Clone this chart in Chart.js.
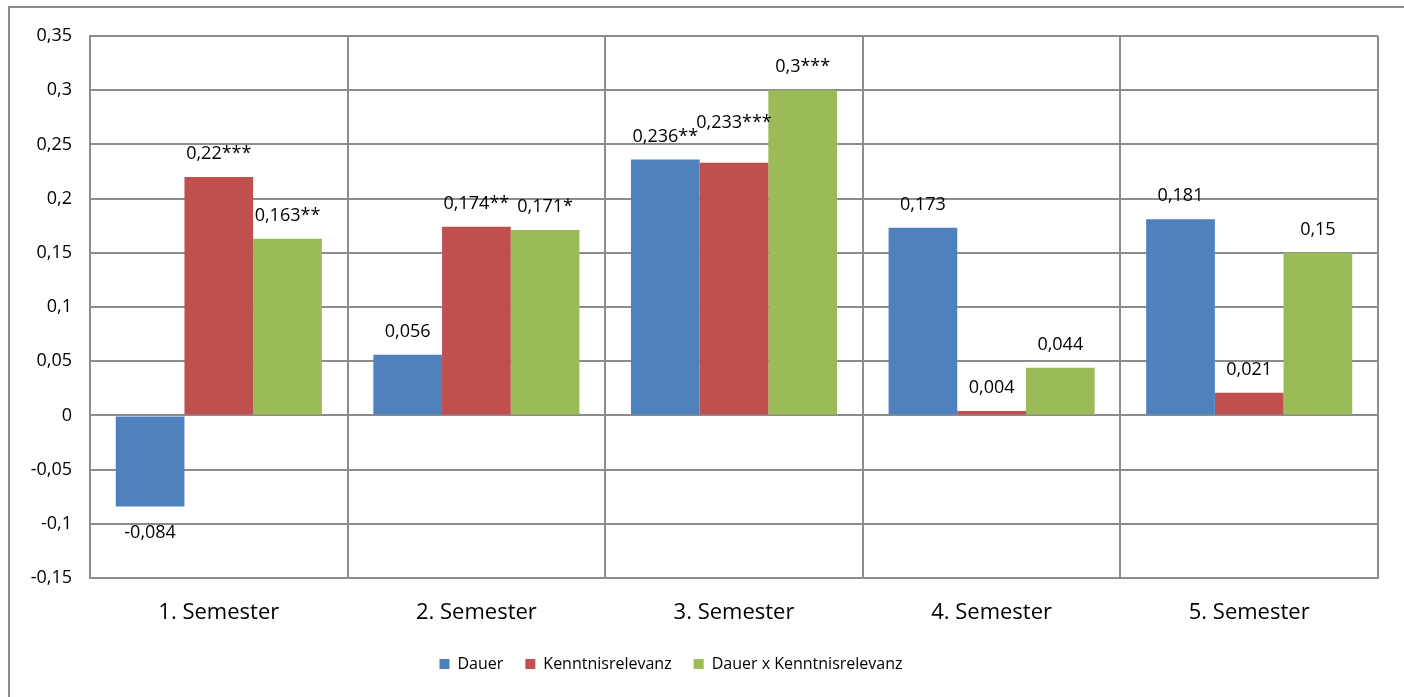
<!DOCTYPE html>
<html>
<head>
<meta charset="utf-8">
<script src="https://cdn.jsdelivr.net/npm/chart.js@4/dist/chart.umd.min.js"></script>
<style>
  html, body { margin: 0; padding: 0; background: #fff; }
  #wrap { width: 1404px; height: 697px; }
</style>
</head>
<body>
<div id="wrap"><canvas id="chart" width="1404" height="697"></canvas></div>
<script>
const categories = ['1. Semester', '2. Semester', '3. Semester', '4. Semester', '5. Semester'];
const dauer = [-0.084, 0.056, 0.236, 0.173, 0.181];
const kenntnis = [0.22, 0.174, 0.233, 0.004, 0.021];
const interaktion = [0.163, 0.171, 0.3, 0.044, 0.15];
const starsDauer = ['', '', '**', '', ''];
const starsKenntnis = ['***', '**', '***', '', ''];
const starsInteraktion = ['**', '*', '***', '', ''];
const yTicks = [0.35, 0.3, 0.25, 0.2, 0.15, 0.1, 0.05, 0, -0.05, -0.1, -0.15];

const grey = '#8c8c8c';
const fontFamily = '"Open Sans", sans-serif';

function deNum(v) {
  return String(Math.round(v * 1000) / 1000).replace('.', ',');
}

// Excel nudges overlapping labels upwards
const labelLift = { '1-2': 17 };

const frame = {
  id: 'frame',
  beforeDraw(chart) {
    const ctx = chart.ctx;
    ctx.save();
    ctx.strokeStyle = grey;
    ctx.lineWidth = 2;
    ctx.beginPath();
    ctx.moveTo(9, 697);
    ctx.lineTo(9, 7);
    ctx.lineTo(1404, 7);
    ctx.stroke();
    ctx.restore();
  }
};

// legend in the original sits a bit left of centre
const legendShift = {
  id: 'legendShift',
  afterLayout(chart) {
    chart.legend.left -= 18;
    chart.legend.right -= 18;
  }
};

const valueLabels = {
  id: 'valueLabels',
  afterDatasetsDraw(chart) {
    const ctx = chart.ctx;
    ctx.save();
    ctx.font = '18px ' + fontFamily;
    ctx.fillStyle = '#000';
    ctx.textAlign = 'center';
    ctx.textBaseline = 'middle';
    chart.data.datasets.forEach((ds, di) => {
      const meta = chart.getDatasetMeta(di);
      meta.data.forEach((bar, i) => {
        const v = ds.data[i];
        const text = deNum(v) + ds.stars[i];
        const lift = labelLift[di + '-' + i] || 0;
        const y = v < 0 ? bar.y + 26 : bar.y - 23 - lift;
        ctx.fillText(text, bar.x, y);
      });
    });
    ctx.restore();
  }
};

new Chart(document.getElementById('chart'), {
  type: 'bar',
  data: {
    labels: categories,
    datasets: [
      { label: 'Dauer', data: dauer, stars: starsDauer, backgroundColor: '#4F81BD' },
      { label: 'Kenntnisrelevanz', data: kenntnis, stars: starsKenntnis, backgroundColor: '#C0504D' },
      { label: 'Dauer x Kenntnisrelevanz', data: interaktion, stars: starsInteraktion, backgroundColor: '#9BBB59' }
    ]
  },
  options: {
    responsive: false,
    animation: false,
    devicePixelRatio: 1,
    categoryPercentage: 0.8,
    barPercentage: 1,
    layout: { padding: { left: 0, top: 36, right: 26, bottom: 15 } },
    plugins: {
      legend: {
        position: 'bottom',
        labels: {
          boxWidth: 10,
          boxHeight: 10,
          padding: 22,
          color: '#000',
          font: { family: fontFamily, size: 16 }
        }
      },
      tooltip: { enabled: false }
    },
    scales: {
      x: {
        grid: { color: grey, lineWidth: 2, drawTicks: false, offset: true },
        border: { color: grey, width: 2 },
        ticks: { color: '#000', font: { family: fontFamily, size: 22 }, padding: 22 },
        afterFit(scale) { scale.height = 56; }
      },
      y: {
        min: -0.15,
        max: 0.35,
        afterBuildTicks(scale) { scale.ticks = yTicks.map(v => ({ value: v })); },
        grid: { color: grey, lineWidth: 2, drawTicks: false },
        border: { color: grey, width: 2 },
        ticks: {
          color: '#000',
          font: { family: fontFamily, size: 18 },
          padding: 18,
          callback: v => deNum(v)
        },
        afterFit(scale) { scale.width = 90; }
      }
    }
  },
  plugins: [frame, legendShift, valueLabels]
});
</script>
</body>
</html>
